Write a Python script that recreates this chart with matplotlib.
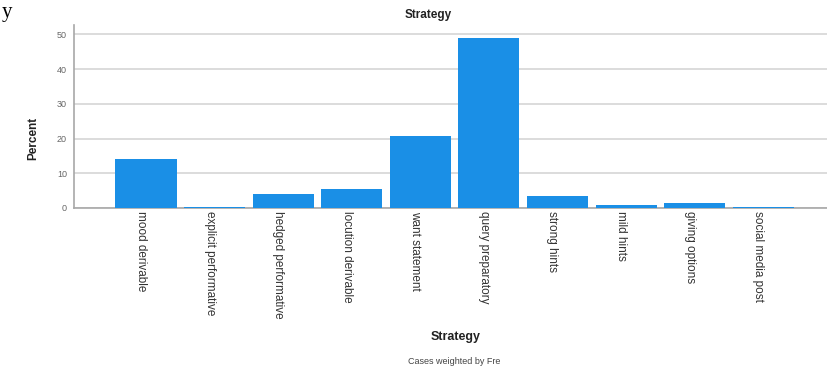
import matplotlib
matplotlib.use("Agg")
import matplotlib.pyplot as plt
import matplotlib.transforms as mtransforms
import numpy as np

# Strategy frequencies (percent)
strategies = [
    "mood derivable",
    "explicit performative",
    "hedged performative",
    "locution derivable",
    "want statement",
    "query preparatory",
    "strong hints",
    "mild hints",
    "giving options",
    "social media post",
]
percent = [14.2, 0.2, 3.9, 5.6, 20.7, 48.9, 3.4, 0.8, 1.3, 0.3]
yticks = [0, 10, 20, 30, 40, 50]

bar_blue = "#1a8fe6"
grid_grey = "#dcdcdc"
axis_grey = "#a8a8a8"

plt.rcParams["font.family"] = ["Liberation Sans", "DejaVu Sans"]

fig = plt.figure(figsize=(8.27, 3.68), dpi=100)
ax = fig.add_axes([74 / 827, 1 - 208 / 368, 1 - 74 / 827, (208 - 25) / 368])

x = np.arange(len(strategies))
ax.bar(x, percent, width=0.89, color=bar_blue, edgecolor="none", zorder=3)

ax.set_xlim(-1.05, 9.93)
ax.set_ylim(0, 52.7)
ax.set_yticks(yticks)
ax.set_yticklabels([str(t) for t in yticks], fontsize=6.5, color="#666666")
ax.yaxis.grid(True, color=grid_grey, linewidth=1.4, zorder=0)
ax.set_axisbelow(True)

ax.set_xticks(x)
ax.set_xticklabels(strategies, rotation=270, fontsize=8.5, color="#333333",
                   va="top", ha="center")
ax.tick_params(axis="x", length=0, pad=2)
ax.tick_params(axis="y", length=0, pad=5)

# labels sit a few pixels left of the bar centres in the original
shift = mtransforms.ScaledTranslation(-5 / 100, 0, fig.dpi_scale_trans)
for lab in ax.get_xticklabels():
    lab.set_transform(lab.get_transform() + shift)

for s in ("top", "right"):
    ax.spines[s].set_visible(False)
ax.spines["left"].set_color(axis_grey)
ax.spines["bottom"].set_color(axis_grey)
ax.spines["left"].set_linewidth(1.2)
ax.spines["bottom"].set_linewidth(1.2)

fig.text(428 / 827, 1 - 15 / 368, "Strategy", ha="center", va="center",
         fontsize=8.5, fontweight="bold", color="#222222")
fig.text(33 / 827, 1 - 138 / 368, "Percent", ha="center", va="center",
         rotation=90, fontsize=8.5, fontweight="bold", color="#222222")
fig.text(456 / 827, 1 - 337 / 368, "Strategy", ha="center", va="center",
         fontsize=9, fontweight="bold", color="#222222")
fig.text(454 / 827, 1 - 361 / 368, "Cases weighted by Fre", ha="center",
         va="center", fontsize=6.5, color="#444444")
fig.text(2 / 827, 1 - 12 / 368, "y", ha="left", va="center", fontsize=15,
         family="Liberation Serif", color="black")

fig.savefig("out.png", dpi=100, facecolor="white")
